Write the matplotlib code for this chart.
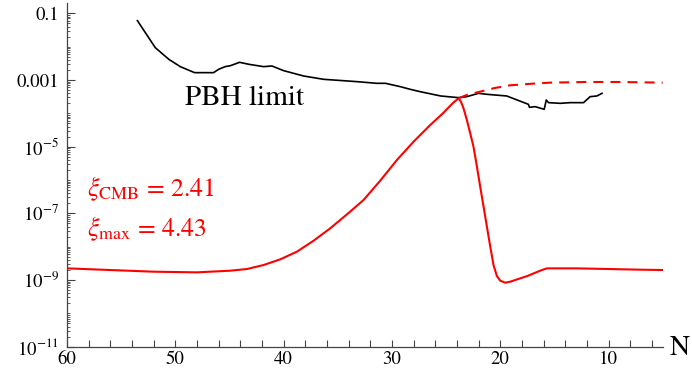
import numpy as np
import matplotlib
matplotlib.use("Agg")
import matplotlib.pyplot as plt
from matplotlib.ticker import FixedLocator, FixedFormatter

plt.rcParams['font.family'] = 'STIXGeneral'
plt.rcParams['mathtext.fontset'] = 'stix'

# PBH limit (N, log10 value)
pbh_N = [53.5, 51.85, 50.6, 49.54, 48.22, 46.47, 46.0, 45.4, 44.9, 44.07, 43.2,
         41.85, 41.08, 40.0, 38.16, 36.31, 33.23, 31.38, 30.6, 29.23, 28.31, 27.4,
         25.5, 23.85, 23.08, 22.0, 21.23, 19.4, 17.4, 17.3, 16.77, 15.94, 15.75,
         15.54, 14.46, 13.54, 12.31, 11.7, 11.08, 10.6]
pbh_log = [-1.22, -2.03, -2.38, -2.6, -2.78, -2.78, -2.68, -2.6, -2.57, -2.47, -2.53,
           -2.60, -2.58, -2.72, -2.88, -2.98, -3.05, -3.10, -3.10, -3.20, -3.28, -3.35,
           -3.48, -3.53, -3.50, -3.40, -3.43, -3.48, -3.73, -3.82, -3.80, -3.88, -3.60,
           -3.68, -3.70, -3.68, -3.68, -3.50, -3.48, -3.40]

# power spectrum, solid red
ps_N = [60, 56, 52, 48, 44.92, 43.38, 41.85, 40.31, 38.77, 37.23, 35.70, 34.15,
        32.62, 31.08, 29.54, 28.0, 26.46, 25.23, 24.4, 23.85, 23.63, 23.39, 23.08,
        22.77, 22.47, 22.15, 21.85, 21.54, 21.23, 20.92, 20.62, 20.31, 20.0, 19.54,
        19.08, 17.5, 16.31, 15.7, 13.0, 10, 7, 5]
ps_log = [-8.65, -8.70, -8.75, -8.77, -8.72, -8.67, -8.55, -8.38, -8.15, -7.82,
          -7.45, -7.03, -6.60, -6.02, -5.40, -4.85, -4.35, -3.98, -3.70, -3.55,
          -3.65, -3.85, -4.20, -4.60, -5.00, -5.60, -6.20, -6.80, -7.40, -8.00,
          -8.55, -8.88, -9.02, -9.08, -9.05, -8.88, -8.72, -8.65, -8.65, -8.67,
          -8.69, -8.70]

# dashed red continuation
ds_N = [23.85, 23.1, 21.85, 20.5, 19.1, 17, 15.4, 12.0, 9.1, 7, 5]
ds_log = [-3.55, -3.45, -3.35, -3.24, -3.16, -3.11, -3.08, -3.06, -3.06, -3.07, -3.08]

ytick_vals = [1e-1, 1e-3, 1e-5, 1e-7, 1e-9, 1e-11]
ytick_labels = ['0.1', '0.001', r'$10^{-5}$', r'$10^{-7}$', r'$10^{-9}$', r'$10^{-11}$']

fig = plt.figure(figsize=(6.92, 3.70), dpi=100)
ax = fig.add_axes([67 / 692, 23.3 / 370, (662.7 - 67) / 692, 343.4 / 370])

ax.plot(pbh_N, np.power(10.0, pbh_log), color='black', lw=1.2)
ax.plot(ps_N, np.power(10.0, ps_log), color='red', lw=1.5)
ax.plot(ds_N, np.power(10.0, ds_log), color='red', lw=1.5, dashes=(4.8, 3.4))

ax.set_yscale('log')
ax.set_xlim(60, 5)
ax.set_ylim(1e-11, 10 ** -0.7)

for s in ['top', 'right']:
    ax.spines[s].set_visible(False)
for s in ['left', 'bottom']:
    ax.spines[s].set_color('#444444')
    ax.spines[s].set_linewidth(0.9)

ax.set_xticks([60, 50, 40, 30, 20, 10])
ax.set_xticks(np.arange(58, 5, -2), minor=True)
ax.yaxis.set_major_locator(FixedLocator(ytick_vals))
ax.yaxis.set_major_formatter(FixedFormatter(ytick_labels))
minors = [m * 10.0 ** k for k in range(-11, 0) for m in range(2, 10)]
minors += [10.0 ** k for k in (-2, -4, -6, -8, -10)]
ax.yaxis.set_minor_locator(FixedLocator(minors))
ax.yaxis.set_minor_formatter(FixedFormatter([]))

ax.tick_params(axis='x', which='both', direction='in', length=5, width=0.8,
               color='#444444', labelsize=13.5, pad=3)
ax.tick_params(axis='y', which='major', direction='in', length=6, width=0.8,
               color='#444444', labelsize=13.5, pad=6)
ax.tick_params(axis='y', which='minor', direction='in', length=2.5, width=0.6,
               color='#444444')

ax.text(49.1, 10 ** -3.75, 'PBH limit', fontsize=21, color='black',
        ha='left', va='baseline')
ax.text(58.15, 10 ** -6.48, r'$\xi_{\mathrm{CMB}}$ = 2.41', fontsize=18.5,
        color='red', ha='left', va='baseline')
ax.text(58.15, 10 ** -7.68, r'$\xi_{\max}$ = 4.43', fontsize=18.5,
        color='red', ha='left', va='baseline')

fig.text(670 / 692, 1 - 348 / 370, 'N', fontsize=20, ha='left', va='center')

fig.savefig('out.png', dpi=100)
